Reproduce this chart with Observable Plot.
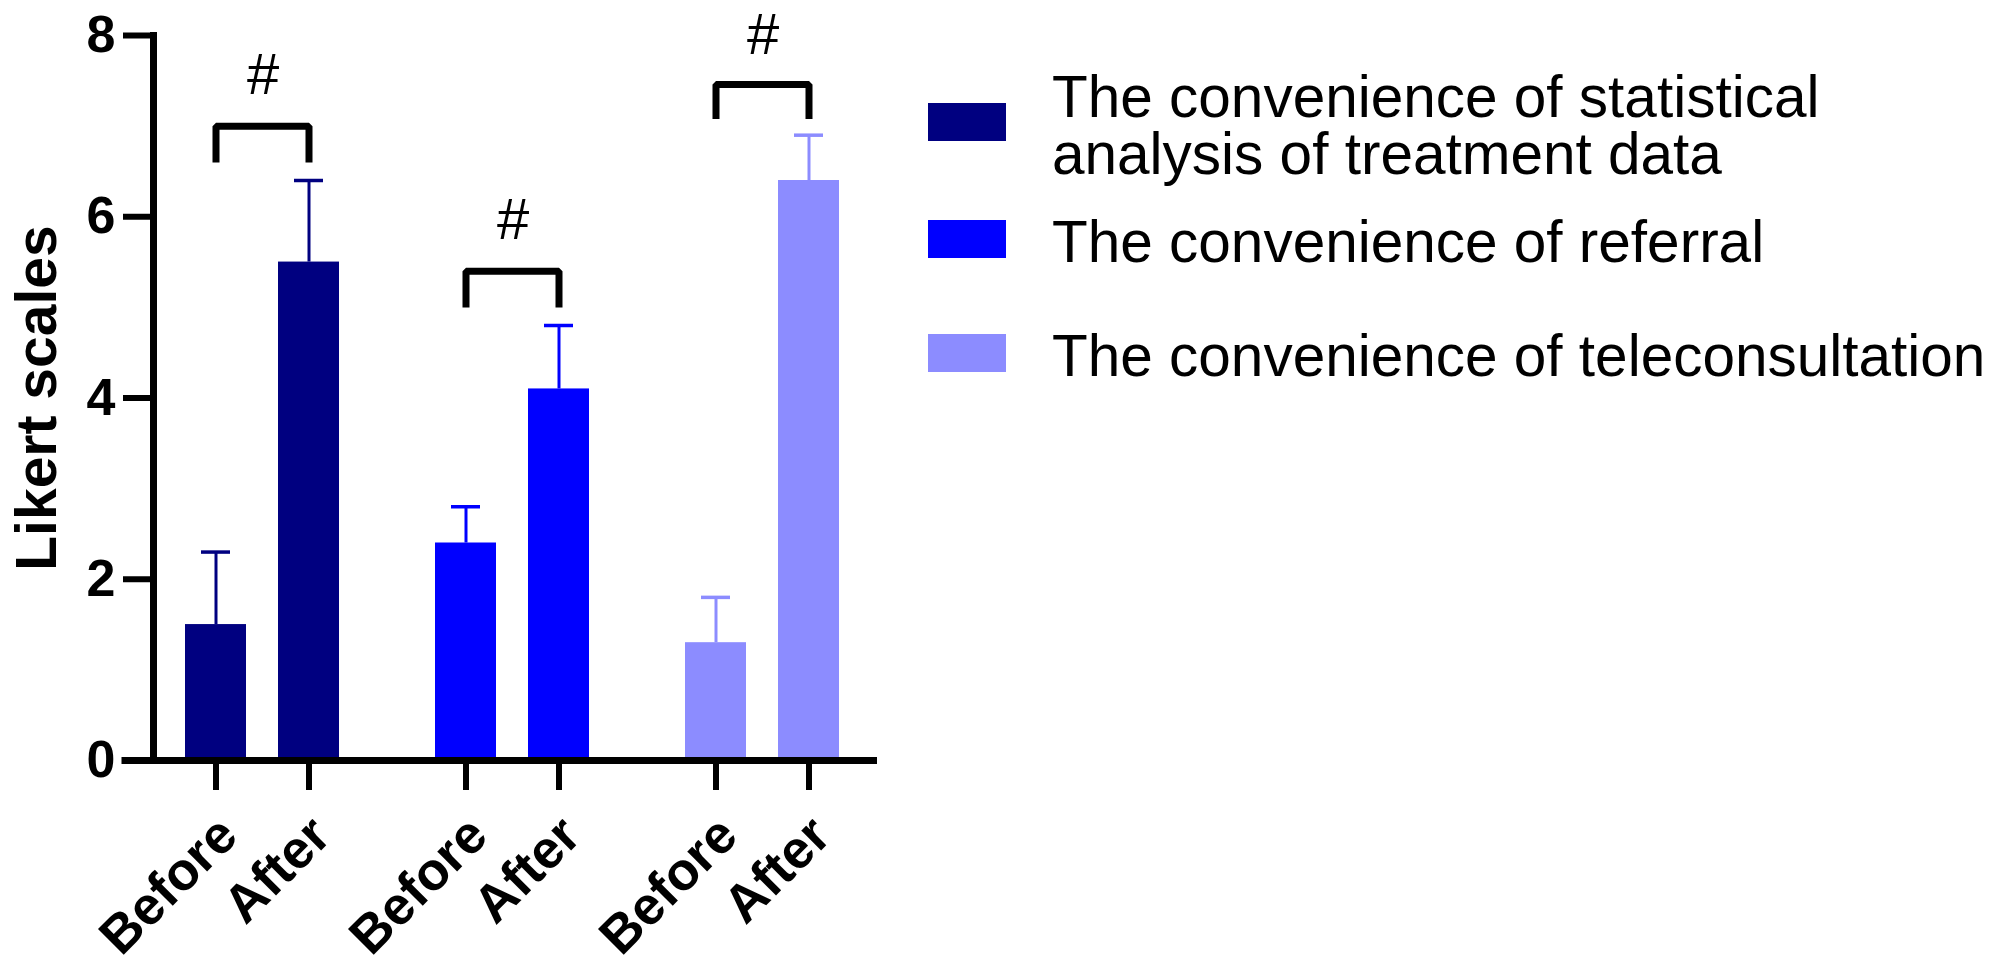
<!DOCTYPE html>
<html>
<head>
<meta charset="utf-8">
<script src="https://cdn.jsdelivr.net/npm/d3@7"></script>
<script src="https://cdn.jsdelivr.net/npm/@observablehq/plot@0.6"></script>
<style>
  html, body { margin: 0; padding: 0; background: #fff; }
  #wrap { position: relative; width: 1995px; height: 967px; font-family: "Liberation Sans", Arial, sans-serif; }
  #chart { position: absolute; left: 0; top: 0; }
  .entry { position: absolute; left: 928px; display: flex; align-items: center; gap: 46px; }
  .sw { width: 78px; height: 38px; flex: none; position: relative; top: -3px; }
  .lab { font-size: 58.5px; line-height: 57px; color: #000; white-space: pre; }
</style>
</head>
<body>
<div id="wrap"><div id="chart"></div></div>
<script>
// ---- data ----
const groups = ["statistical", "referral", "teleconsultation"];
const seriesNames = [
  "The convenience of statistical\nanalysis of treatment data",
  "The convenience of referral",
  "The convenience of teleconsultation"
];
const phases = ["Before", "After"];
const beforeMeans = [1.5, 2.4, 1.3];
const afterMeans = [5.5, 4.1, 6.4];
const beforeSD = [0.8, 0.4, 0.5];
const afterSD = [0.9, 0.7, 0.5];
const bracketTop = [7.0, 5.4, 7.46];
const bracketBottom = [6.6, 5.0, 7.08];
const sigLabelY = [7.56, 5.96, 8.0];
const sigLabels = ["#", "#", "#"];
const colors = ["#000080", "#0000ff", "#8c8cff"];
const yTicks = [0, 2, 4, 6, 8];
const yLabel = "Likert scales";

// ---- tables built from the arrays ----
const rows = groups.flatMap((g, i) => [
  {group: g, phase: "Before", mean: beforeMeans[i], sd: beforeSD[i]},
  {group: g, phase: "After", mean: afterMeans[i], sd: afterSD[i]}
]);
const bracketRows = groups.flatMap((g, i) => [
  {group: g, phase: "Before", y: bracketBottom[i]},
  {group: g, phase: "Before", y: bracketTop[i]},
  {group: g, phase: "After", y: bracketTop[i]},
  {group: g, phase: "After", y: bracketBottom[i]}
]);
const sigRows = groups.map((g, i) => ({group: g, y: sigLabelY[i], label: sigLabels[i]}));

const chart = Plot.plot({
  width: 900,
  height: 967,
  marginLeft: 152,
  marginRight: 26,
  marginTop: 35,
  marginBottom: 207,
  style: {fontFamily: "'Liberation Sans', Arial, sans-serif", background: "#fff", color: "#000"},
  fx: {domain: groups, paddingInner: 0.1235, paddingOuter: 0, axis: null, label: null},
  x: {domain: phases, padding: 0.34, label: null},
  y: {domain: [0, 8], label: null},
  color: {domain: groups, range: colors},
  marks: [
    Plot.barY(rows, {fx: "group", x: "phase", y: "mean", fill: "group"}),
    Plot.ruleX(rows, {fx: "group", x: "phase", y1: "mean", y2: d => d.mean + d.sd, stroke: "group", strokeWidth: 3}),
    Plot.tickY(rows, {fx: "group", x: "phase", y: d => d.mean + d.sd, stroke: "group", strokeWidth: 3.5, insetLeft: 16, insetRight: 16}),
    Plot.line(bracketRows, {fx: "group", x: "phase", y: "y", z: "group", stroke: "#000", strokeWidth: 7, strokeLinejoin: "miter", strokeLinecap: "butt", curve: "linear"}),
    Plot.text(sigRows, {fx: "group", y: "y", text: "label", frameAnchor: "middle", fontSize: 58, fill: "#000"}),
    // y axis
    Plot.axisY({ticks: yTicks, tickSize: 30, tickPadding: 8, strokeWidth: 6, fontSize: 52, fontWeight: "bold", label: null, tickFormat: d => String(d), fill: "#000"}),
    Plot.frame({anchor: "left", stroke: "#000", strokeWidth: 7, facetAnchor: "left"}),
    // x axis line (continuous across the groups)
    Plot.ruleY([0], {stroke: "#000", strokeWidth: 7, insetLeft: -31.5}),
    Plot.ruleY([0], {stroke: "#000", strokeWidth: 7, insetRight: -5, facetAnchor: "right"}),
    // x ticks and rotated labels
    Plot.axisX({tickSize: 30, strokeWidth: 6, tickFormat: () => "", label: null}),
    Plot.axisX({tickSize: 0, tickRotate: -45, tickPadding: 66, dx: 12, fontSize: 53, fontWeight: "bold", label: null, fill: "#000"}),
    // y title
    Plot.text([yLabel], {text: d => d, frameAnchor: "left", textAnchor: "middle", rotate: -90, dx: -116, fontSize: 57, fontWeight: "bold", fill: "#000", facetAnchor: "left"})
  ]
});
document.getElementById("chart").appendChild(chart);

// ---- legend (HTML, to the right of the plot) ----
const entryTops = [68, 213, 327];
const wrap = document.getElementById("wrap");
seriesNames.forEach((name, i) => {
  const e = document.createElement("div");
  e.className = "entry";
  e.style.top = entryTops[i] + "px";
  const sw = document.createElement("div");
  sw.className = "sw";
  sw.style.background = colors[i];
  const lab = document.createElement("div");
  lab.className = "lab";
  lab.textContent = name;
  e.appendChild(sw);
  e.appendChild(lab);
  wrap.appendChild(e);
});
</script>
</body>
</html>
